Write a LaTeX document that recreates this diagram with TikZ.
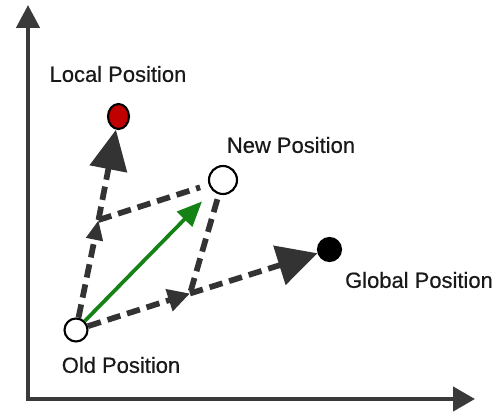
\documentclass[tikz,border=0pt]{standalone}
\usepackage{fontspec}
\setmainfont{Liberation Sans}
\newfontfamily\lblfont{Liberation Sans}[FakeBold=0.6]
\usepackage{tikz}
\usetikzlibrary{arrows.meta,shapes.geometric}
\definecolor{vecgray}{RGB}{51,51,51}
\definecolor{axisgray}{RGB}{58,58,58}
\definecolor{vecgreen}{RGB}{20,130,20}
\definecolor{localred}{RGB}{192,0,0}
\tikzset{
  posdot/.style={circle, draw=black, line width=1.2pt, inner sep=0pt, minimum size=0.46cm},
  vec/.style={vecgray, line width=0.115cm, dash pattern=on 0.27cm off 0.14cm},
  lbl/.style={font=\lblfont\fontsize{12.5}{15}\selectfont, text=black!90}
}

\begin{document}
\begin{tikzpicture}[x=0.02cm,y=0.02cm]
   \useasboundingbox (0,0) rectangle (501,412);
   \draw[axisgray, line width=0.09cm, {Triangle[length=0.46cm,width=0.46cm]}-{Triangle[length=0.44cm,width=0.48cm]}] (28,407) -- (28,13) -- (475,13);
   \node[posdot] (old) at (76,82) {};
   \node[posdot, ellipse, fill=localred, minimum width=0.42cm, minimum height=0.5cm] (local) at (118.5,295.5) {};
   \node[posdot, minimum size=0.56cm] (new) at (223,232) {};
   \node[posdot, fill=black] (global) at (329.5,162.5) {};
   \coordinate (lc) at (98.5,192);
   \coordinate (gc) at (190,118.5);
   \draw[vec, shorten >=0.18cm] (lc) -- (new);
   \draw[vec, shorten <=0.1cm] (new) -- (gc);
   \draw[vec, -{Triangle[length=0.4cm,width=0.32cm]}] (old) -- (lc);
   \draw[vec, -{Triangle[length=0.8cm,width=0.74cm]}] (lc) -- (local);
   \draw[vec, -{Triangle[length=0.44cm,width=0.44cm]}] (old) -- (gc);
   \draw[vec, -{Triangle[length=0.8cm,width=0.8cm]}] (gc) -- (global);
   \draw[vecgreen, line width=0.075cm, shorten >=0.3cm, -{Triangle[length=0.5cm,width=0.42cm]}] (old) -- (new);
   \node[lbl] (locallbl) at (118,338) {Local Position};
   \node[lbl] (newlbl) at (291,267) {New Position};
   \node[lbl] (globallbl) at (419,132) {Global Position};
   \node[lbl] (oldlbl) at (121,47) {Old Position};
\end{tikzpicture}
\end{document}
